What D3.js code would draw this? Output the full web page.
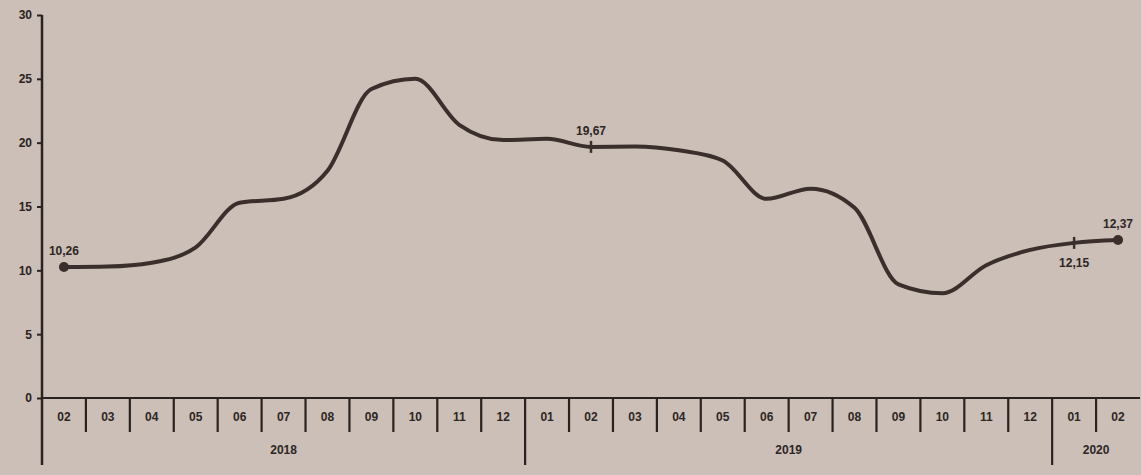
<!DOCTYPE html>
<html>
<head>
<meta charset="utf-8">
<script src="https://cdn.jsdelivr.net/npm/d3@7"></script>
<style>
  body { margin: 0; background: #cbbfb7; }
  svg { display: block; }
  text { font-family: "Liberation Sans", Arial, sans-serif; font-weight: bold; fill: #2e2624; }
</style>
</head>
<body>
<div id="chart"></div>
<script>
// months shown on the x axis, with the year each belongs to
const months = ['02', '03', '04', '05', '06', '07', '08', '09', '10', '11', '12',
  '01', '02', '03', '04', '05', '06', '07', '08', '09', '10', '11', '12',
  '01', '02']
const years = ['2018', '2018', '2018', '2018', '2018', '2018', '2018', '2018', '2018', '2018', '2018',
  '2019', '2019', '2019', '2019', '2019', '2019', '2019', '2019', '2019', '2019', '2019', '2019',
  '2020', '2020']
const values = [10.26, 10.3, 10.6, 11.8, 15.3, 15.6, 17.8, 24.2, 25.0, 21.4, 20.2,
  20.3, 19.67, 19.7, 19.4, 18.6, 15.6, 16.4, 14.9, 8.9, 8.2, 10.4, 11.6,
  12.15, 12.37]
const yTicks = [0, 5, 10, 15, 20, 25, 30]

// labelled points: index into values, and where the label sits
const labelled = [
  { i: 0, text: '10,26', pos: 'above', marker: 'dot' },
  { i: 12, text: '19,67', pos: 'above', marker: 'tick' },
  { i: 23, text: '12,15', pos: 'below', marker: 'tick' },
  { i: 24, text: '12,37', pos: 'above', marker: 'dot' },
]

const width = 1141, height = 475
const margin = { top: 15, right: 1, bottom: 77, left: 42 }
const innerW = width - margin.left - margin.right
const innerH = height - margin.top - margin.bottom

const svg = d3.select('#chart').append('svg')
  .attr('width', width)
  .attr('height', height)

const g = svg.append('g').attr('transform', `translate(${margin.left},${margin.top})`)

const keys = months.map((m, i) => i)
const x = d3.scaleBand().domain(keys).range([0, innerW]).padding(0)
const y = d3.scaleLinear().domain([0, 30]).range([innerH, 0])

const ink = '#2a2220'

// y axis
const yAxis = g.append('g').call(d3.axisLeft(y).tickValues(yTicks).tickSize(5).tickFormat(d3.format('d')))
yAxis.select('.domain').remove()
yAxis.selectAll('.tick line').attr('stroke', ink).attr('stroke-width', 2)
yAxis.selectAll('.tick text').attr('x', -10).style('font-size', '12px').style('fill', ink)
g.append('line')
  .attr('x1', 0).attr('x2', 0)
  .attr('y1', y(30)).attr('y2', innerH + 67)
  .attr('stroke', ink).attr('stroke-width', 2.5)

// x axis baseline
g.append('line')
  .attr('x1', 0).attr('x2', innerW)
  .attr('y1', innerH).attr('y2', innerH)
  .attr('stroke', ink).attr('stroke-width', 2)

// separators between months (longer ones between years)
keys.slice(1).forEach((k) => {
  const yearBreak = years[k] !== years[k - 1]
  g.append('line')
    .attr('x1', x(k)).attr('x2', x(k))
    .attr('y1', innerH).attr('y2', innerH + (yearBreak ? 67 : 34))
    .attr('stroke', ink).attr('stroke-width', 2.2)
})

// month labels
g.selectAll('.month')
  .data(keys)
  .enter()
  .append('text')
  .attr('class', 'month')
  .attr('x', (d) => x(d) + x.bandwidth() / 2)
  .attr('y', innerH + 23)
  .attr('text-anchor', 'middle')
  .style('font-size', '12px')
  .text((d) => months[d])

// year labels centred under their months
const yearGroups = d3.groups(keys, (k) => years[k])
g.selectAll('.year')
  .data(yearGroups)
  .enter()
  .append('text')
  .attr('class', 'year')
  .attr('x', (d) => (x(d[1][0]) + x(d[1][d[1].length - 1]) + x.bandwidth()) / 2)
  .attr('y', innerH + 56)
  .attr('text-anchor', 'middle')
  .style('font-size', '12px')
  .text((d) => d[0])

// the line, slightly smoothed like the print
const line = d3.line()
  .x((d, i) => x(i) + x.bandwidth() / 2)
  .y((d) => y(d))
  .curve(d3.curveMonotoneX)
g.append('path')
  .datum(values)
  .attr('d', line)
  .attr('fill', 'none')
  .attr('stroke', '#3a2f2c')
  .attr('stroke-width', 4)
  .attr('stroke-linejoin', 'round')

// markers and value labels
labelled.forEach((p) => {
  const cx = x(p.i) + x.bandwidth() / 2
  const cy = y(values[p.i])
  if (p.marker === 'dot') {
    g.append('circle').attr('cx', cx).attr('cy', cy).attr('r', 5).attr('fill', '#3a2f2c')
  } else {
    g.append('line')
      .attr('x1', cx).attr('x2', cx)
      .attr('y1', cy - 6).attr('y2', cy + 6)
      .attr('stroke', '#3a2f2c').attr('stroke-width', 2.5)
  }
  g.append('text')
    .attr('x', cx)
    .attr('y', p.pos === 'above' ? cy - 12 : cy + 24)
    .attr('text-anchor', 'middle')
    .style('font-size', '12px')
    .text(p.text)
})
</script>
</body>
</html>
